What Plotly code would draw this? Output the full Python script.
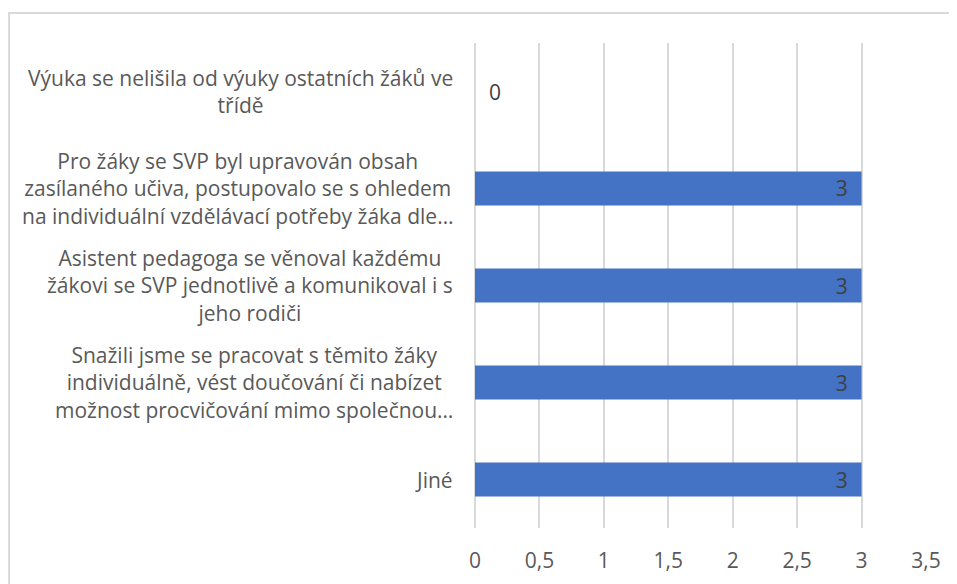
import plotly.graph_objects as go

categories = [
    "Výuka se nelišila od výuky ostatních žáků ve<br>třídě",
    "Pro žáky se SVP byl upravován obsah<br>zasílaného učiva, postupovalo se s ohledem<br>na individuální vzdělávací potřeby žáka dle…",
    "Asistent pedagoga se věnoval každému<br>žákovi se SVP jednotlivě a komunikoval i s<br>jeho rodiči",
    "Snažili jsme se pracovat s těmito žáky<br>individuálně, vést doučování či nabízet<br>možnost procvičování mimo společnou…",
    "Jiné",
]
values = [0, 3, 3, 3, 3]
x_ticks = [0, 0.5, 1, 1.5, 2, 2.5, 3, 3.5]

FONT = "Open Sans"
GRAY = "#595959"
NB = "\u00a0"

ypos = list(range(len(categories)))
textpos = ["outside" if v == 0 else "inside" for v in values]
labels = [(NB * 2 + str(v)) if v == 0 else (str(v) + NB * 2) for v in values]

fig = go.Figure()
fig.add_trace(go.Bar(
    x=values, y=ypos, orientation="h",
    marker=dict(color="#4472C4", line=dict(width=0)),
    width=0.35,
    text=labels,
    textposition=textpos,
    insidetextanchor="end",
    textangle=0,
    constraintext="none",
    textfont=dict(family=FONT, size=21, color="#404040"),
    cliponaxis=False,
    hoverinfo="skip",
))

annotations = []
for i, c in enumerate(categories):
    annotations.append(dict(
        x=0, xref="paper", y=i, yref="y", text=c,
        xanchor="right", yanchor="middle", align="center",
        xshift=-20, showarrow=False,
        font=dict(family=FONT, size=21, color=GRAY),
    ))

fig.update_layout(
    width=949, height=576,
    margin=dict(l=467, r=31, t=35, b=56),
    paper_bgcolor="white", plot_bgcolor="white",
    separators=", ",
    showlegend=False,
    annotations=annotations,
    xaxis=dict(
        range=[0, 3.5], tickvals=x_ticks,
        showgrid=True, gridcolor="#D9D9D9", gridwidth=2,
        zeroline=True, zerolinecolor="#D9D9D9", zerolinewidth=2,
        showline=False, ticks="",
        tickfont=dict(family=FONT, size=21, color=GRAY),
        ticklabelstandoff=18,
        automargin=False,
    ),
    yaxis=dict(
        range=[len(categories) - 0.5, -0.5],
        showticklabels=False, showgrid=False, zeroline=False, showline=False,
        automargin=False,
    ),
    shapes=[dict(
        type="rect", xref="paper", yref="paper",
        x0=-1.033, x1=1.5, y0=1.062, y1=-0.5,
        line=dict(color="#D9D9D9", width=2), fillcolor="rgba(0,0,0,0)",
        layer="below",
    )],
)

fig.write_html("out.html")
